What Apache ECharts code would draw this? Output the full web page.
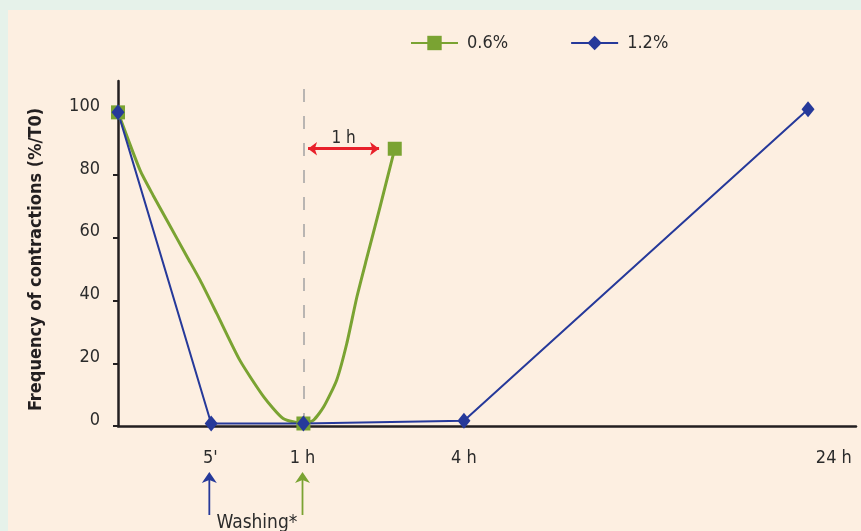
<!DOCTYPE html>
<html>
    <head>
        <meta charset="utf-8">
        <title>Frequency of contractions</title>
        <style>
            html, body { margin: 0; padding: 0; background: #e6f2ea; }
            #chart1 { width: 861px; height: 531px; }
        </style>
    </head>
    <body>
        <div id="chart1"></div>
    </body>
    <script src="https://cdn.jsdelivr.net/npm/echarts@6/dist/echarts.min.js"></script>
    <script type="text/javascript">
        // x positions are in the figure's own (non linear) time units: 5' = 1, 1 h = 2
        var xLabelPos = [1, 2, 3.75, 7.76];
        var xLabels = ["5'", '1 h', '4 h', '24 h'];
        var yTicks = [0, 20, 40, 60, 80, 100];

        var greenName = '0.6%';
        var greenX = [0, 0.24, 0.38, 0.53, 0.75, 0.89, 1.07, 1.32, 1.58, 1.79, 2.01, 2.12, 2.23, 2.37, 2.48, 2.59, 2.70, 2.84, 3.0];
        var greenY = [100, 81.5, 73.6, 65.6, 53.9, 46.5, 35.9, 21, 9.3, 2.4, 0.8, 1.9, 6.1, 14.6, 26.3, 41.2, 53.9, 69.8, 88.4];
        var greenMarked = [0, 10, 18];

        var blueName = '1.2%';
        var blueX = [0, 1.01, 2.01, 3.75, 7.48];
        var blueY = [100, 0.8, 0.8, 1.7, 101];

        var washLine = 2.01;        // dashed line at 1 h
        var arrowX = [2.06, 2.83];  // red "1 h" arrow
        var arrowY = 88.4;
        var washPos = [0.99, 2.0];  // washing arrows under the axis
        var washColors = ['#26399a', '#7aa332'];

        var FONT = "'Liberation Sans Narrow', 'DejaVu Sans Condensed', sans-serif";
        var GREEN = '#7aa332';
        var BLUE = '#26399a';

        var myChart = echarts.init(document.getElementById('chart1'));

        var greenData = greenX.map(function (x, i) {
            var item = { value: [x, greenY[i]] };
            if (greenMarked.indexOf(i) < 0) item.symbol = 'none';
            return item;
        });
        var blueData = blueX.map(function (x, i) { return [x, blueY[i]]; });

        var option = {
            backgroundColor: '#e6f2ea',
            animation: false,
            textStyle: { fontFamily: FONT },
            graphic: [{
                type: 'rect', z: -10, silent: true,
                shape: { x: 8, y: 10, width: 853, height: 521 },
                style: { fill: '#fdefe1' }
            }],
            legend: {
                data: [greenName, blueName],
                left: 405,
                top: 29,
                itemWidth: 47,
                itemHeight: 18,
                itemGap: 62,
                textStyle: { fontFamily: FONT, fontSize: 18, color: '#2b2b2b', padding: [0, 0, 12, 4] }
            },
            grid: { left: 118, right: 5, top: 81, bottom: 105 },
            xAxis: {
                type: 'value',
                min: 0,
                max: 8,
                axisLine: { lineStyle: { color: '#231f20', width: 2.5 } },
                axisTick: { show: false },
                splitLine: { show: false },
                axisLabel: {
                    customValues: xLabelPos,
                    margin: 23,
                    fontSize: 18,
                    color: '#2b2b2b',
                    formatter: function (v) {
                        var i = xLabelPos.indexOf(v);
                        return i < 0 ? '' : xLabels[i];
                    }
                }
            },
            yAxis: {
                type: 'value',
                min: 0,
                max: 110,
                name: 'Frequency of contractions (%/T0)',
                nameLocation: 'middle',
                nameGap: 73,
                nameTextStyle: { fontFamily: FONT, fontSize: 18, fontWeight: 'bold', color: '#231f20', padding: [0, 12, 0, 0] },
                axisLine: { lineStyle: { color: '#231f20', width: 2.5 } },
                axisTick: { customValues: yTicks, length: 5, lineStyle: { color: '#231f20', width: 2 } },
                splitLine: { show: false },
                axisLabel: {
                    customValues: yTicks,
                    margin: 18,
                    fontSize: 18,
                    color: '#2b2b2b',
                    verticalAlign: 'bottom',
                    lineHeight: 12
                }
            },
            series: [{
                name: greenName,
                type: 'line',
                data: greenData,
                smooth: 0.2,
                symbol: 'rect',
                symbolSize: 14,
                color: GREEN,
                lineStyle: { width: 3, color: GREEN },
                itemStyle: { color: GREEN },
                markLine: {
                    silent: true,
                    symbol: ['arrow', 'arrow'],
                    symbolSize: [10, 9],
                    lineStyle: { color: '#e8202a', width: 3, type: 'solid' },
                    label: { show: true, position: 'middle', formatter: '1 h', fontFamily: FONT, fontSize: 17, color: '#2b2b2b', distance: 2 },
                    data: [[{ coord: [arrowX[0], arrowY] }, { coord: [arrowX[1], arrowY] }]]
                }
            }, {
                name: blueName,
                type: 'line',
                data: blueData,
                symbol: 'diamond',
                symbolSize: [13, 16],
                color: BLUE,
                lineStyle: { width: 2, color: BLUE },
                itemStyle: { color: BLUE },
                markLine: {
                    silent: true,
                    symbol: 'none',
                    z: 1,
                    lineStyle: { color: '#a3a3a3', width: 1.5, type: [13, 14] },
                    label: { show: false },
                    data: [{ xAxis: washLine }]
                }
            }]
        };

        myChart.setOption(option);

        // washing arrows and label below the axis
        var extra = [];
        var arrowXs = washPos.map(function (p) { return myChart.convertToPixel({ xAxisIndex: 0 }, p); });
        arrowXs.forEach(function (x, i) {
            extra.push({
                type: 'line', silent: true,
                shape: { x1: x, y1: 515, x2: x, y2: 478 },
                style: { stroke: washColors[i], lineWidth: 1.8 }
            });
            extra.push({
                type: 'polygon', silent: true,
                shape: { points: [[x, 472], [x - 7.5, 483], [x, 480], [x + 7.5, 483]] },
                style: { fill: washColors[i] }
            });
        });
        extra.push({
            type: 'text', silent: true,
            x: (arrowXs[0] + arrowXs[1]) / 2 + 1, y: 514,
            style: { text: 'Washing*', font: '19px ' + FONT, fill: '#2b2b2b', textAlign: 'center', textVerticalAlign: 'top' }
        });
        myChart.setOption({ graphic: option.graphic.concat(extra) });
    </script>
</html>
